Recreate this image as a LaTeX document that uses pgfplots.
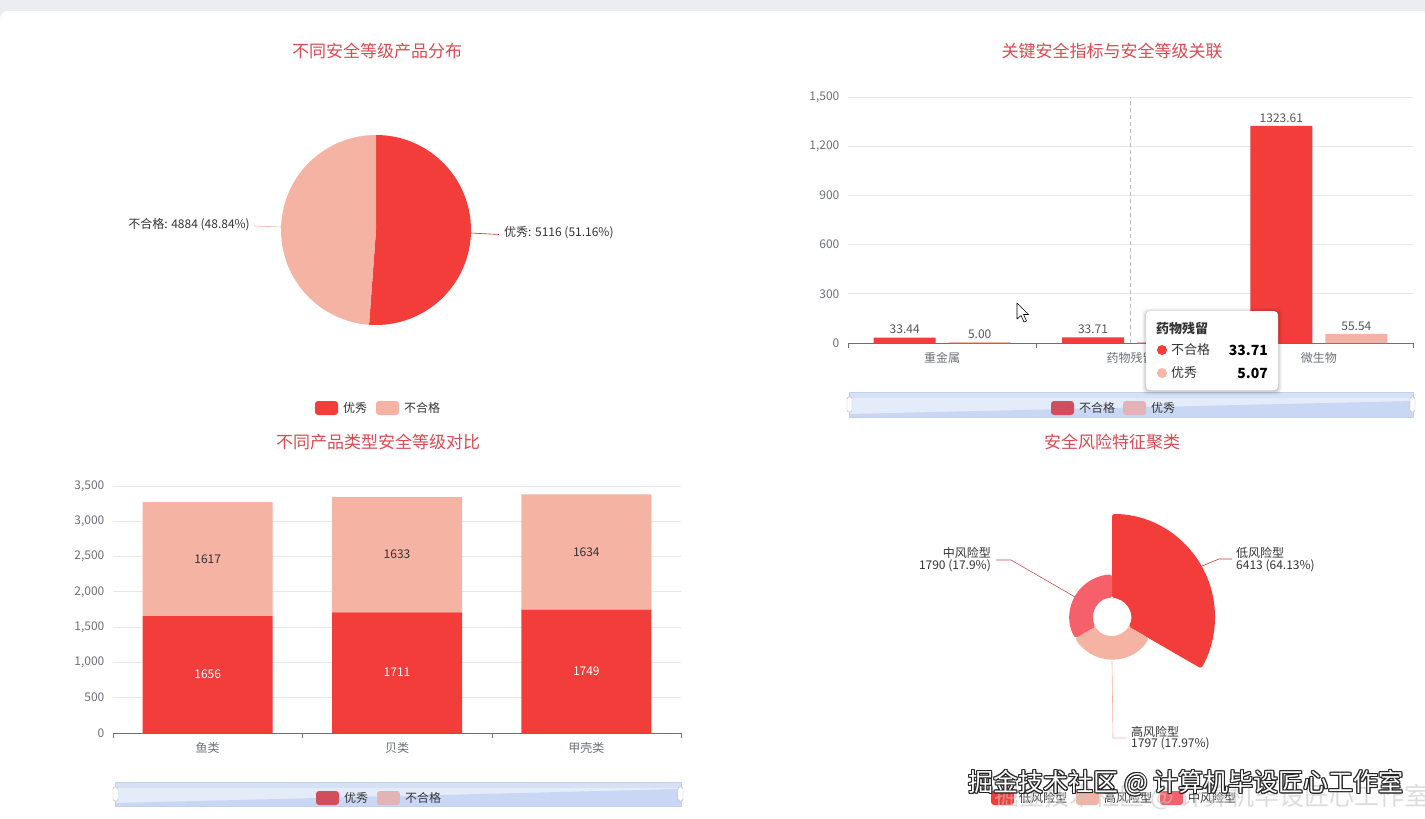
\documentclass[border=0pt]{standalone}
\usepackage{fontspec}
\setmainfont{Noto Sans CJK SC}
\usepackage{pgfplots}
\pgfplotsset{compat=1.18}
\pgfkeys{/pgf/number format/assume math mode=true}

\definecolor{cRed}{HTML}{F23D3A}
\definecolor{cLight}{HTML}{F4B3A3}
\definecolor{cPink}{HTML}{F6606A}
\definecolor{cTitle}{HTML}{DB4A52}
\definecolor{cTick}{HTML}{6E7079}
\definecolor{cGrid}{HTML}{E4E7EE}
\definecolor{cLabel}{HTML}{555555}
\definecolor{cText}{HTML}{333333}
\definecolor{cLegRed}{HTML}{D24E5C}
\definecolor{cLegPink}{HTML}{E3B3B7}
\definecolor{cDZ}{HTML}{E4ECFA}
\definecolor{cDZtop}{HTML}{D6E1F5}
\definecolor{cDZd}{HTML}{C9D7F4}
\definecolor{cDZb}{HTML}{C3D0EA}
\definecolor{cBg}{HTML}{ECEDF0}

\newcommand{\fs}[2]{\fontsize{#1}{#2}\selectfont}

% pie data
\pgfmathsetmacro\pieA{90-360*(5116/(5116+4884))}
% rose data (area mode: equal angles, radius by value)
\pgfmathsetmacro\rLow{19+84*(6413/6413)}
\pgfmathsetmacro\rHigh{19+84*(1797/6413)}
\pgfmathsetmacro\rMid{19+84*(1790/6413)}

\newcommand\rosewedge[4]{%
 \fill[#1, rounded corners=2.5pt] (axis cs:{19*cos(#2)},{19*sin(#2)}) -- (axis cs:{#4*cos(#2)},{#4*sin(#2)}) arc[start angle=#2, end angle=#3, radius=#4pt] -- (axis cs:{19*cos(#3)},{19*sin(#3)}) arc[start angle=#3, end angle=#2, radius=19pt] -- cycle;}

\pgfplotsset{
  barax/.style={
    scale only axis,
    xmin=-0.5, xmax=2.5, ymin=0,
    enlargelimits=false,
    axis x line=bottom, axis y line=left,
    y axis line style={draw=none},
    x axis line style={draw=cTick, -},
    xtick={0,1,2},
    major x tick style={draw=none},
    minor xtick={-0.5,0.5,1.5,2.5},
    minor x tick style={draw=cTick},
    minor tick length=5pt,
    xtick align=outside,
    major y tick style={draw=none},
    ymajorgrids, grid style={draw=cGrid, line width=0.8pt},
    tick label style={font={\fs{12}{14}}, text=cTick},
    yticklabel style={/pgf/number format/1000 sep={,}, xshift=-3pt},
    xticklabel style={yshift=-2pt},
    clip=false,
  }
}

\begin{document}
\begin{tikzpicture}[x=1pt,y=1pt]
\useasboundingbox (0,0) rectangle (1425,-819);
\fill[cBg] (0,0) rectangle (1425,-819);
\fill[white, rounded corners=8pt] (0,-11) rectangle (1440,-830);

% ================= Chart 1: pie =================
\node[text=cTitle, font={\fs{17}{20}}] at (377,-51) {不同安全等级产品分布};
\begin{axis}[at={(376pt,-230pt)}, anchor=center, scale only axis, width=190pt, height=190pt,
  xmin=-95, xmax=95, ymin=-95, ymax=95, hide axis, clip=false]
\fill[cRed] (axis cs:0,0) -- (axis cs:0,95) arc[start angle=90, end angle=\pieA, radius=95pt] -- cycle;
\fill[cLight] (axis cs:0,0) -- (axis cs:{95*cos(\pieA)},{95*sin(\pieA)}) arc[start angle=\pieA, end angle=-270, radius=95pt] -- cycle;
\end{axis}
\draw[cRed!80!black, line width=0.6pt] (471,-233) -- (499,-234.5);
\node[anchor=west, text=cText, font={\fs{12}{14}}, inner sep=0pt] at (504,-233) {优秀: 5116 (51.16\%)};
\draw[cLight, line width=0.6pt] (281,-227) -- (254,-226);
\node[anchor=east, text=cText, font={\fs{12}{14}}, inner sep=0pt] at (250,-225) {不合格: 4884 (48.84\%)};
% legend
\fill[cRed, rounded corners=3pt] (315,-401) rectangle (338,-415);
\node[anchor=west, text=cText, font={\fs{12}{14}}, inner sep=0pt] at (343,-408) {优秀};
\fill[cLight, rounded corners=3pt] (376,-401) rectangle (399,-415);
\node[anchor=west, text=cText, font={\fs{12}{14}}, inner sep=0pt] at (404,-408) {不合格};

% ================= Chart 2: grouped bars =================
\node[text=cTitle, font={\fs{17}{20}}] at (1112,-51) {关键安全指标与安全等级关联};
\begin{axis}[barax, at={(848pt,-343pt)}, anchor=south west, width=565pt, height=246pt,
  ymax=1500, ytick={0,300,...,1500},
  xticklabels={重金属,药物残留,微生物},
  ybar, bar width=62pt]
\draw[gray!55, dash pattern=on 4pt off 3pt, line width=0.7pt] (axis cs:1,0) -- (axis cs:1,1500);
\addplot[fill=cRed, draw=none, bar shift=-37.5pt,
  nodes near coords={\pgfmathprintnumber[fixed,fixed zerofill,precision=2,1000 sep={}]{\pgfplotspointmeta}},
  every node near coord/.append style={font={\fs{12}{14}}, text=cLabel}]
  coordinates {(0,33.44) (1,33.71) (2,1323.61)};
\addplot[fill=cLight, draw=none, bar shift=37.5pt,
  nodes near coords={\pgfmathprintnumber[fixed,fixed zerofill,precision=2,1000 sep={}]{\pgfplotspointmeta}},
  every node near coord/.append style={font={\fs{12}{14}}, text=cLabel}]
  coordinates {(0,5.00) (1,5.07) (2,55.54)};
\end{axis}
% data zoom + legend
\fill[cDZ] (849,-392) rectangle (1413,-417);
\fill[cDZtop] (849,-392) rectangle (1413,-398);
\fill[cDZd] (849,-417) -- (849,-414) -- (1413,-401) -- (1413,-417) -- cycle;
\draw[cDZb, line width=0.8pt] (849,-392) rectangle (1413,-417);
\draw[gray!60, fill=white, rounded corners=1.5pt] (847,-397) rectangle (852,-412);
\draw[gray!60, fill=white, rounded corners=1.5pt] (1410,-397) rectangle (1415,-412);
\fill[cLegRed, rounded corners=3pt] (1051,-401) rectangle (1074,-415);
\node[anchor=west, text=cText, font={\fs{12}{14}}, inner sep=0pt] at (1079,-408) {不合格};
\fill[cLegPink, rounded corners=3pt] (1123,-401) rectangle (1146,-415);
\node[anchor=west, text=cText, font={\fs{12}{14}}, inner sep=0pt] at (1151,-408) {优秀};
% tooltip
\foreach \d/\o in {4/0.03,3/0.04,2/0.05,1/0.06}{
  \fill[black, opacity=\o, rounded corners=5pt] (1146-\d,-311+\d-1) rectangle (1278+\d,-390-\d-1);
}
\fill[white, rounded corners=4pt] (1146,-311) rectangle (1278,-390);
\node[anchor=west, text=cText, font={\fs{13}{15}\bfseries}, inner sep=0pt] at (1156,-328) {药物残留};
\fill[cRed] (1162,-350) circle (5);
\node[anchor=west, text=cText, font={\fs{13}{15}}, inner sep=0pt] at (1171,-350) {不合格};
\node[anchor=east, text=black, font={\fs{14}{16}\bfseries}, inner sep=0pt] at (1268,-350) {33.71};
\fill[cLight!85!pink] (1162,-373) circle (5);
\node[anchor=west, text=cText, font={\fs{13}{15}}, inner sep=0pt] at (1171,-373) {优秀};
\node[anchor=east, text=black, font={\fs{14}{16}\bfseries}, inner sep=0pt] at (1268,-373) {5.07};
% mouse cursor
\filldraw[fill=white, draw=black, line width=0.6pt, line join=round]
  (1017,-303) -- (1017,-319) -- (1021,-315.5) -- (1024,-322) -- (1026.5,-321) -- (1023.5,-314.5) -- (1028.5,-314.5) -- cycle;

% ================= Chart 3: stacked bars =================
\node[text=cTitle, font={\fs{17}{20}}] at (378,-442) {不同产品类型安全等级对比};
\begin{axis}[barax, at={(113pt,-733pt)}, anchor=south west, width=568pt, height=247pt,
  ymax=3500, ytick={0,500,...,3500},
  xticklabels={鱼类,贝类,甲壳类},
  ybar stacked, bar width=130pt]
\addplot[fill=cRed, draw=none, point meta=rawy,
  nodes near coords={\pgfmathprintnumber[1000 sep={}]{\pgfplotspointmeta}},
  every node near coord/.append style={anchor=center, font={\fs{12}{14}}, text=white}]
  coordinates {(0,1656) (1,1711) (2,1749)};
\addplot[fill=cLight, draw=none, point meta=rawy,
  nodes near coords={\pgfmathprintnumber[1000 sep={}]{\pgfplotspointmeta}},
  every node near coord/.append style={anchor=center, font={\fs{12}{14}}, text=cText}]
  coordinates {(0,1617) (1,1633) (2,1634)};
\end{axis}
% data zoom + legend
\fill[cDZ] (115,-782) rectangle (681,-806);
\fill[cDZtop] (115,-782) rectangle (681,-788);
\fill[cDZd] (115,-806) -- (115,-803) -- (681,-789) -- (681,-806) -- cycle;
\draw[cDZb, line width=0.8pt] (115,-782) rectangle (681,-806);
\draw[gray!60, fill=white, rounded corners=1.5pt] (113,-787) rectangle (118,-801);
\draw[gray!60, fill=white, rounded corners=1.5pt] (678,-787) rectangle (683,-801);
\fill[cLegRed, rounded corners=3pt] (316,-791) rectangle (339,-805);
\node[anchor=west, text=cText, font={\fs{12}{14}}, inner sep=0pt] at (344,-798) {优秀};
\fill[cLegPink, rounded corners=3pt] (377,-791) rectangle (400,-805);
\node[anchor=west, text=cText, font={\fs{12}{14}}, inner sep=0pt] at (405,-798) {不合格};

% ================= Chart 4: rose =================
\node[text=cTitle, font={\fs{17}{20}}] at (1112,-442) {安全风险特征聚类};
\begin{axis}[at={(1112pt,-617pt)}, anchor=center, scale only axis, width=206pt, height=206pt,
  xmin=-103, xmax=103, ymin=-103, ymax=103, hide axis, clip=false]
\rosewedge{cRed}{90}{-30}{\rLow}
\rosewedge{cLight}{-30}{-150}{\rHigh}
\rosewedge{cPink}{-150}{-270}{\rMid}
\end{axis}
\draw[cRed!85!black, line width=0.6pt] (1202,-566) -- (1219,-559) -- (1232,-559);
\node[anchor=west, text=cText, font={\fs{12}{13}}, inner sep=0pt] at (1236,-553) {低风险型};
\node[anchor=west, text=cText, font={\fs{12}{13}}, inner sep=0pt] at (1236,-566) {6413 (64.13\%)};
\draw[cPink!80!black, line width=0.6pt] (1075,-597) -- (1011,-560) -- (996,-560);
\node[anchor=east, text=cText, font={\fs{12}{13}}, inner sep=0pt] at (991,-553) {中风险型};
\node[anchor=east, text=cText, font={\fs{12}{13}}, inner sep=0pt] at (991,-566) {1790 (17.9\%)};
\draw[cLight, line width=0.6pt] (1112,-662) -- (1113,-738) -- (1127,-738);
\node[anchor=west, text=cText, font={\fs{12}{13}}, inner sep=0pt] at (1131,-732) {高风险型};
\node[anchor=west, text=cText, font={\fs{12}{13}}, inner sep=0pt] at (1131,-744) {1797 (17.97\%)};
% legend
\fill[cRed, rounded corners=3pt] (991,-791) rectangle (1014,-805);
\node[anchor=west, text=cText, font={\fs{12}{14}}, inner sep=0pt] at (1019,-798) {低风险型};
\fill[cLight, rounded corners=3pt] (1076,-791) rectangle (1099,-805);
\node[anchor=west, text=cText, font={\fs{12}{14}}, inner sep=0pt] at (1104,-798) {高风险型};
\fill[cPink, rounded corners=3pt] (1160,-791) rectangle (1183,-805);
\node[anchor=west, text=cText, font={\fs{12}{14}}, inner sep=0pt] at (1188,-798) {中风险型};

% watermark
\node[text=gray!45, opacity=0.6, font={\fs{25}{27}}, inner sep=0pt] at (1212,-797) {掘金技术社区 @ 计算机毕设匠心工作室};
\foreach \dx/\dy in {-1/0,1/0,0/-1,0/1,-0.8/-0.8,0.8/0.8,-0.8/0.8,0.8/-0.8,1.2/-1.2}{
  \node[text=black!85, font={\fs{25}{27}}, inner sep=0pt] at (1186+\dx,-783+\dy) {掘金技术社区 @ 计算机毕设匠心工作室};
}
\node[text=white, font={\fs{25}{27}}, inner sep=0pt] at (1186,-783) {掘金技术社区 @ 计算机毕设匠心工作室};
\end{tikzpicture}
\end{document}
